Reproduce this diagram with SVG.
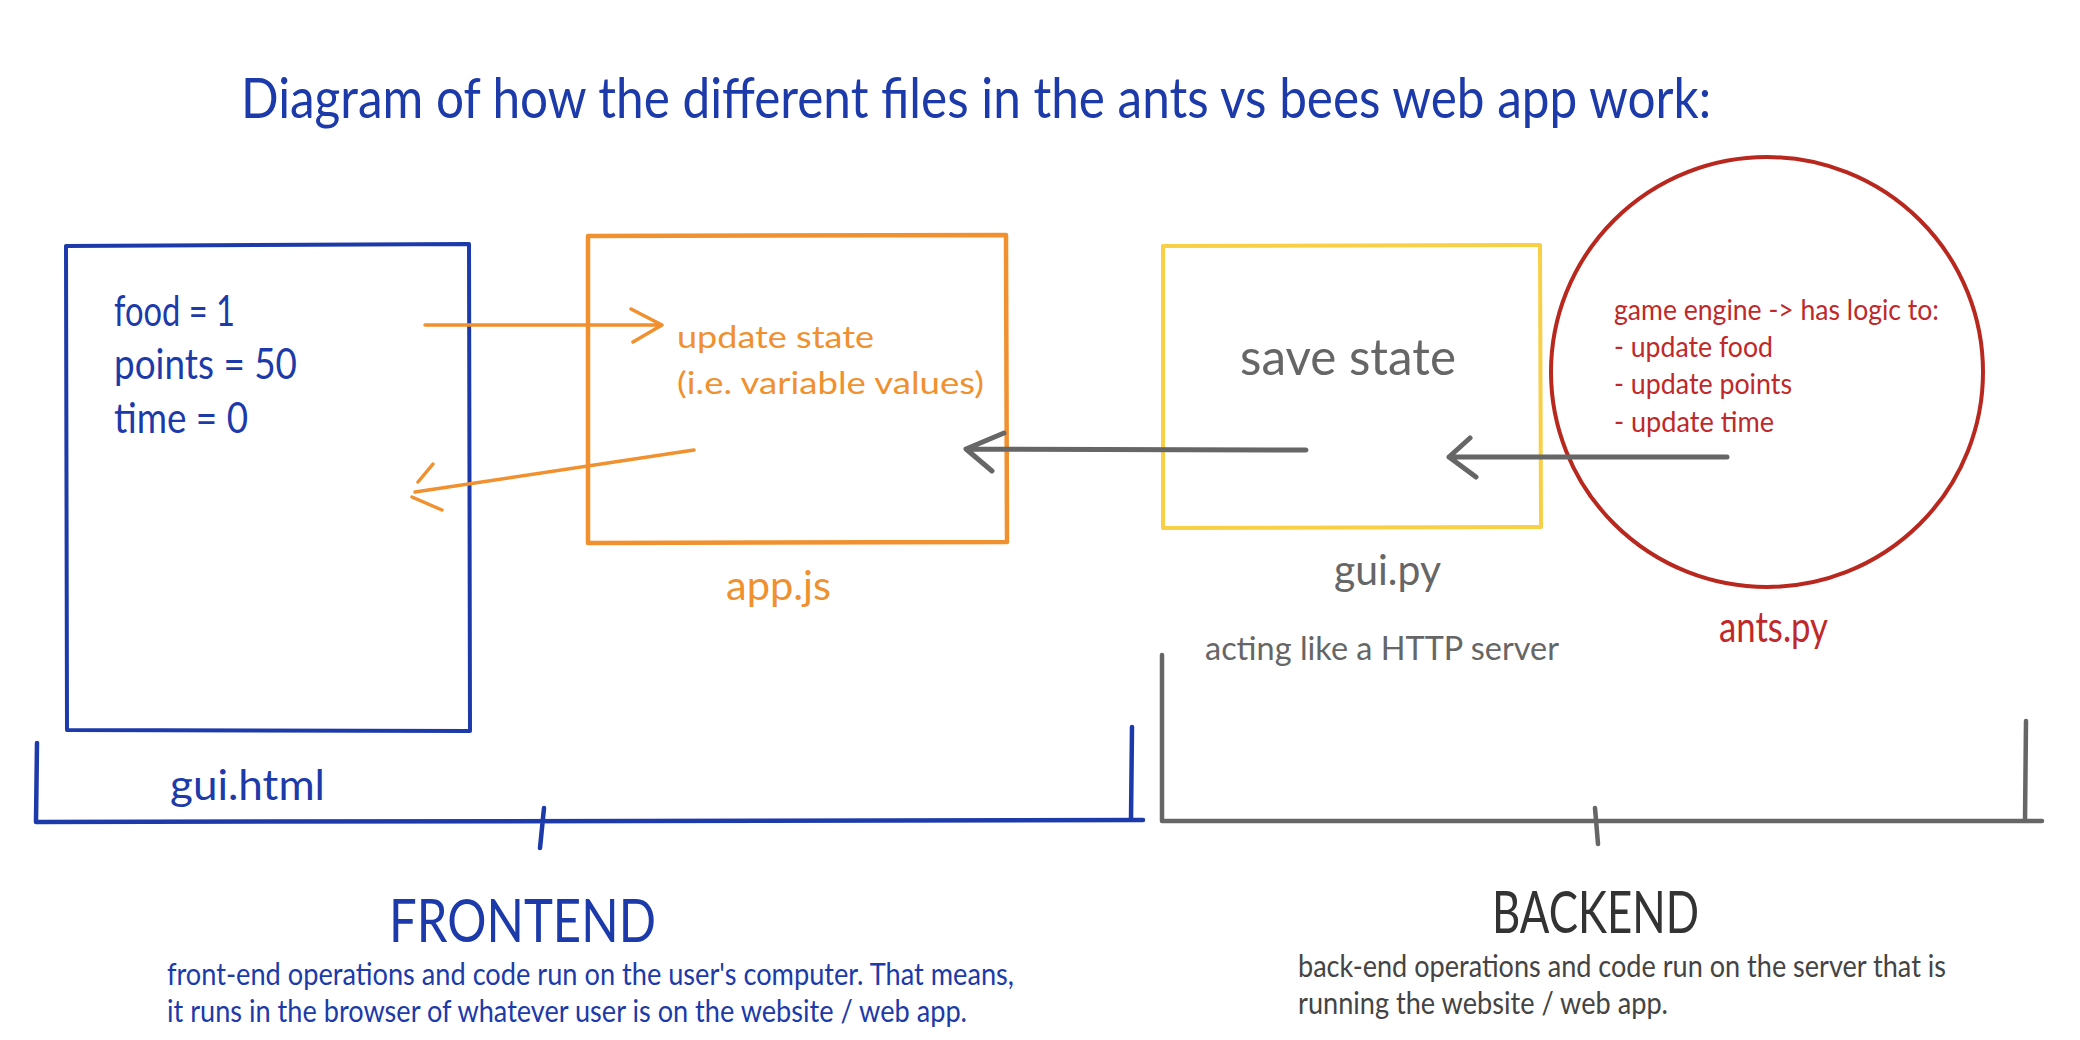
<svg xmlns="http://www.w3.org/2000/svg" width="2080" height="1040" viewBox="0 0 2080 1040">
<style>
text{font-family:Lato,"Open Sans","Noto Sans",sans-serif;}
.blue{fill:#1c3aa9}
.orange{fill:#f0902e}
.gray{fill:#666666}
.red{fill:#c0282a}
.dark{fill:#333333}
.box{fill:none;stroke-linejoin:round;stroke-linecap:round}
.ln{fill:none;stroke-linecap:round;stroke-linejoin:round}
</style>
<rect width="2080" height="1040" fill="#ffffff"/>
<g id="title">
<text class="blue" x="241" y="118" font-size="56" textLength="1470" lengthAdjust="spacingAndGlyphs">Diagram of how the different files in the ants vs bees web app work:</text>
</g>
<g id="gui-html">
<path class="box" d="M66 246 L469 244 L470 731 L67 730 Z" stroke="#1c3aa9" stroke-width="4"/>
<text class="blue" x="114" y="326" font-size="42" textLength="121" lengthAdjust="spacingAndGlyphs">food = 1</text>
<text class="blue" x="114" y="379" font-size="42" textLength="183" lengthAdjust="spacingAndGlyphs">points = 50</text>
<text class="blue" x="114" y="433" font-size="42" textLength="134" lengthAdjust="spacingAndGlyphs">time = 0</text>
<text class="blue" x="170" y="800" font-size="43" textLength="155" lengthAdjust="spacingAndGlyphs">gui.html</text>
</g>
<g id="app-js">
<path class="box" d="M588 236 L1006 235 L1007 542 L588 543 Z" stroke="#f0902e" stroke-width="4.5"/>
<text class="orange" x="677" y="348" font-size="31" textLength="197" lengthAdjust="spacingAndGlyphs">update state</text>
<text class="orange" x="677" y="394" font-size="31" textLength="307" lengthAdjust="spacingAndGlyphs">(i.e. variable values)</text>
<text class="orange" x="726" y="600" font-size="40" textLength="105" lengthAdjust="spacingAndGlyphs">app.js</text>
</g>
<g id="gui-py">
<path class="box" d="M1163 246 L1540 245 L1541 527 L1163 528 Z" stroke="#f9cf45" stroke-width="4"/>
<text class="gray" x="1240" y="375" font-size="50" textLength="216" lengthAdjust="spacingAndGlyphs">save state</text>
<text class="gray" x="1334" y="585" font-size="42" textLength="107" lengthAdjust="spacingAndGlyphs">gui.py</text>
<text class="gray" x="1205" y="660" font-size="32" textLength="354" lengthAdjust="spacingAndGlyphs">acting like a HTTP server</text>
</g>
<g id="ants-py">
<ellipse cx="1767" cy="372" rx="216" ry="215" fill="none" stroke="#b8281f" stroke-width="4"/>
<text class="red" x="1614" y="320" font-size="29" textLength="325" lengthAdjust="spacingAndGlyphs">game engine -&gt; has logic to:</text>
<text class="red" x="1614" y="357" font-size="29" textLength="159" lengthAdjust="spacingAndGlyphs">- update food</text>
<text class="red" x="1614" y="394" font-size="29" textLength="178" lengthAdjust="spacingAndGlyphs">- update points</text>
<text class="red" x="1614" y="432" font-size="29" textLength="160" lengthAdjust="spacingAndGlyphs">- update time</text>
<text class="red" x="1719" y="642" font-size="42" textLength="109" lengthAdjust="spacingAndGlyphs">ants.py</text>
</g>
<g id="frontend">
<path class="ln" d="M37 743 L36 822 L1143 820 M1132 727 L1131 820 M544 808 L540 848" stroke="#1c3aa9" stroke-width="4.5"/>
<text class="blue" x="389" y="942" font-size="60" textLength="267" lengthAdjust="spacingAndGlyphs">FRONTEND</text>
<text class="blue" x="167" y="985" font-size="30" textLength="847" lengthAdjust="spacingAndGlyphs">front-end operations and code run on the user's computer. That means,</text>
<text class="blue" x="167" y="1022" font-size="30" textLength="800" lengthAdjust="spacingAndGlyphs">it runs in the browser of whatever user is on the website / web app.</text>
</g>
<g id="backend">
<path class="ln" d="M1162 655 L1162 821 L2042 821 M2026 721 L2025 821 M1595 808 L1598 844" stroke="#666666" stroke-width="4.5"/>
<text class="dark" x="1492" y="933" font-size="58" textLength="207" lengthAdjust="spacingAndGlyphs">BACKEND</text>
<text x="1298" y="977" font-size="30" fill="#444444" textLength="648" lengthAdjust="spacingAndGlyphs">back-end operations and code run on the server that is</text>
<text x="1298" y="1014" font-size="30" fill="#444444" textLength="370" lengthAdjust="spacingAndGlyphs">running the website / web app.</text>
</g>
<g id="connectors">
<path class="ln" d="M425 325 L661 325 M631 309 L662 325 L633 342" stroke="#f0902e" stroke-width="3.5"/>
<path class="ln" d="M694 450 L415 492 M433 464 L418 482 M412 497 L442 510" stroke="#f0902e" stroke-width="3.5"/>
<path class="ln" d="M1306 450 L966 449 M1004 433 L966 449 L992 471" stroke="#666666" stroke-width="5"/>
<path class="ln" d="M1727 457 L1449 457 M1470 438 L1449 457 L1476 477" stroke="#666666" stroke-width="5"/>
</g>
</svg>
